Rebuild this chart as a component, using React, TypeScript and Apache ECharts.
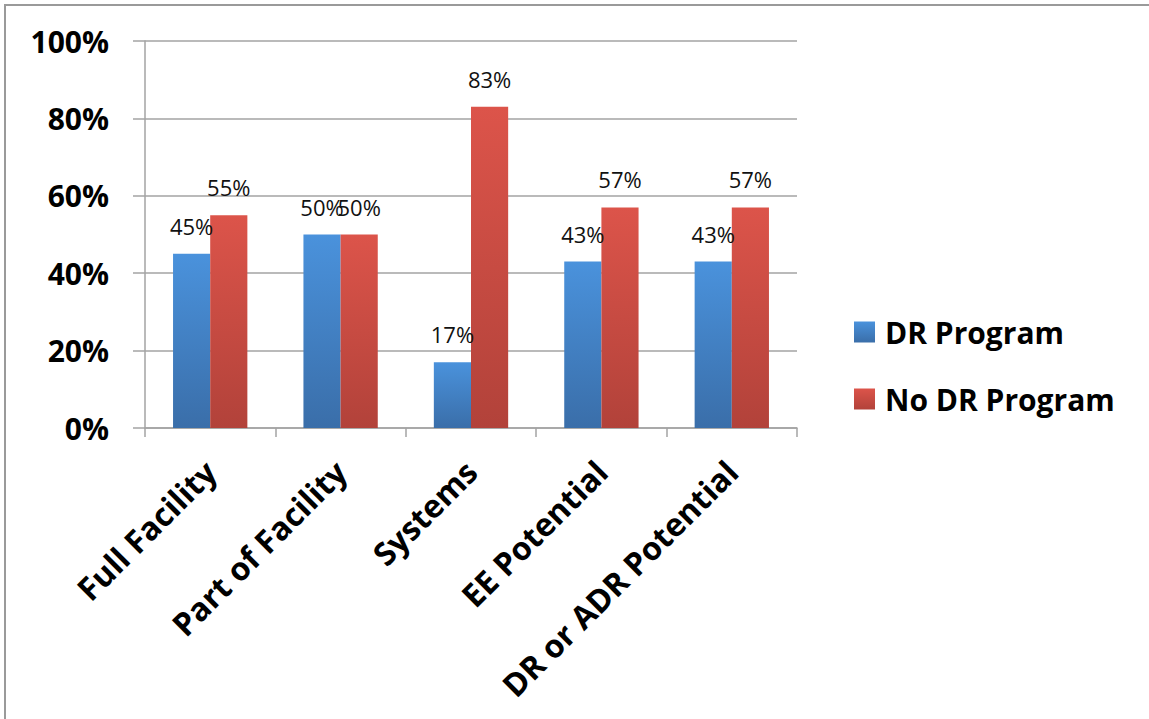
import React, { useEffect, useRef } from "react";
import * as echarts from "echarts";

// Share of facilities by audit scope / potential, split by DR program participation
const categories = ["Full Facility", "Part of Facility", "Systems", "EE Potential", "DR or ADR Potential"];
const drProgram = [45, 50, 17, 43, 43];
const noDrProgram = [55, 50, 83, 57, 57];
const seriesNames = ["DR Program", "No DR Program"];

const GRID_LINE = "#a3a3a3";
const FONT = "'Open Sans', 'DejaVu Sans', sans-serif";

const vGrad = (top: string, bottom: string) =>
  new echarts.graphic.LinearGradient(0, 0, 0, 1, [
    { offset: 0, color: top },
    { offset: 1, color: bottom },
  ]);

export default function App() {
  const ref = useRef<HTMLDivElement>(null);

  useEffect(() => {
    if (!ref.current) return;
    const chart = echarts.init(ref.current, null, { renderer: "svg" });

    const barLabel = {
      show: true,
      position: "top" as const,
      distance: 17,
      formatter: "{c}%",
      fontFamily: FONT,
      fontSize: 22,
      color: "#111",
    };

    chart.setOption({
      animation: false,
      backgroundColor: "#ffffff",
      graphic: [
        {
          type: "rect",
          shape: { x: 5, y: 5, width: 1200, height: 800 },
          style: { fill: "none", stroke: "#9a9a9a", lineWidth: 2 },
          silent: true,
        },
      ],
      grid: { left: 145, right: 352, top: 41, bottom: 291, containLabel: false },
      legend: {
        orient: "vertical",
        left: 849,
        top: 309,
        itemWidth: 21,
        itemHeight: 21,
        itemGap: 31,
        icon: "rect",
        data: seriesNames,
        textStyle: {
          fontFamily: FONT,
          fontSize: 30,
          fontWeight: "bold",
          color: "#000",
          lineHeight: 36,
          padding: [0, 0, 0, 5],
        },
      },
      xAxis: {
        type: "category",
        data: categories,
        axisLine: { show: true, lineStyle: { color: GRID_LINE, width: 1.5 } },
        axisTick: { show: true, length: 9, lineStyle: { color: GRID_LINE, width: 1.5 } },
        axisLabel: {
          rotate: 45,
          margin: 38,
          interval: 0,
          fontFamily: FONT,
          fontSize: 32,
          fontWeight: "bold",
          color: "#000",
        },
      },
      yAxis: {
        type: "value",
        min: 0,
        max: 100,
        interval: 20,
        axisLine: { show: true, lineStyle: { color: GRID_LINE, width: 1.5 } },
        axisTick: { show: true, length: 12, lineStyle: { color: GRID_LINE, width: 1.5 } },
        splitLine: { show: true, lineStyle: { color: GRID_LINE, width: 1.5 } },
        axisLabel: {
          formatter: "{value}%",
          margin: 36,
          padding: [12, 0, 0, 0],
          fontFamily: FONT,
          fontSize: 30,
          fontWeight: "bold",
          color: "#000",
        },
      },
      series: [
        {
          name: seriesNames[0],
          type: "bar",
          data: drProgram,
          barGap: "0%",
          barCategoryGap: "43%",
          itemStyle: { color: vGrad("#4a92dc", "#3a6ea9") },
          label: barLabel,
        },
        {
          name: seriesNames[1],
          type: "bar",
          data: noDrProgram,
          barGap: "0%",
          barCategoryGap: "43%",
          itemStyle: { color: vGrad("#dc544a", "#b2423a") },
          label: barLabel,
        },
      ],
    });

    return () => chart.dispose();
  }, []);

  return (
    <div
      ref={ref}
      style={{ position: "fixed", left: 0, top: 0, width: 1149, height: 719 }}
    />
  );
}
